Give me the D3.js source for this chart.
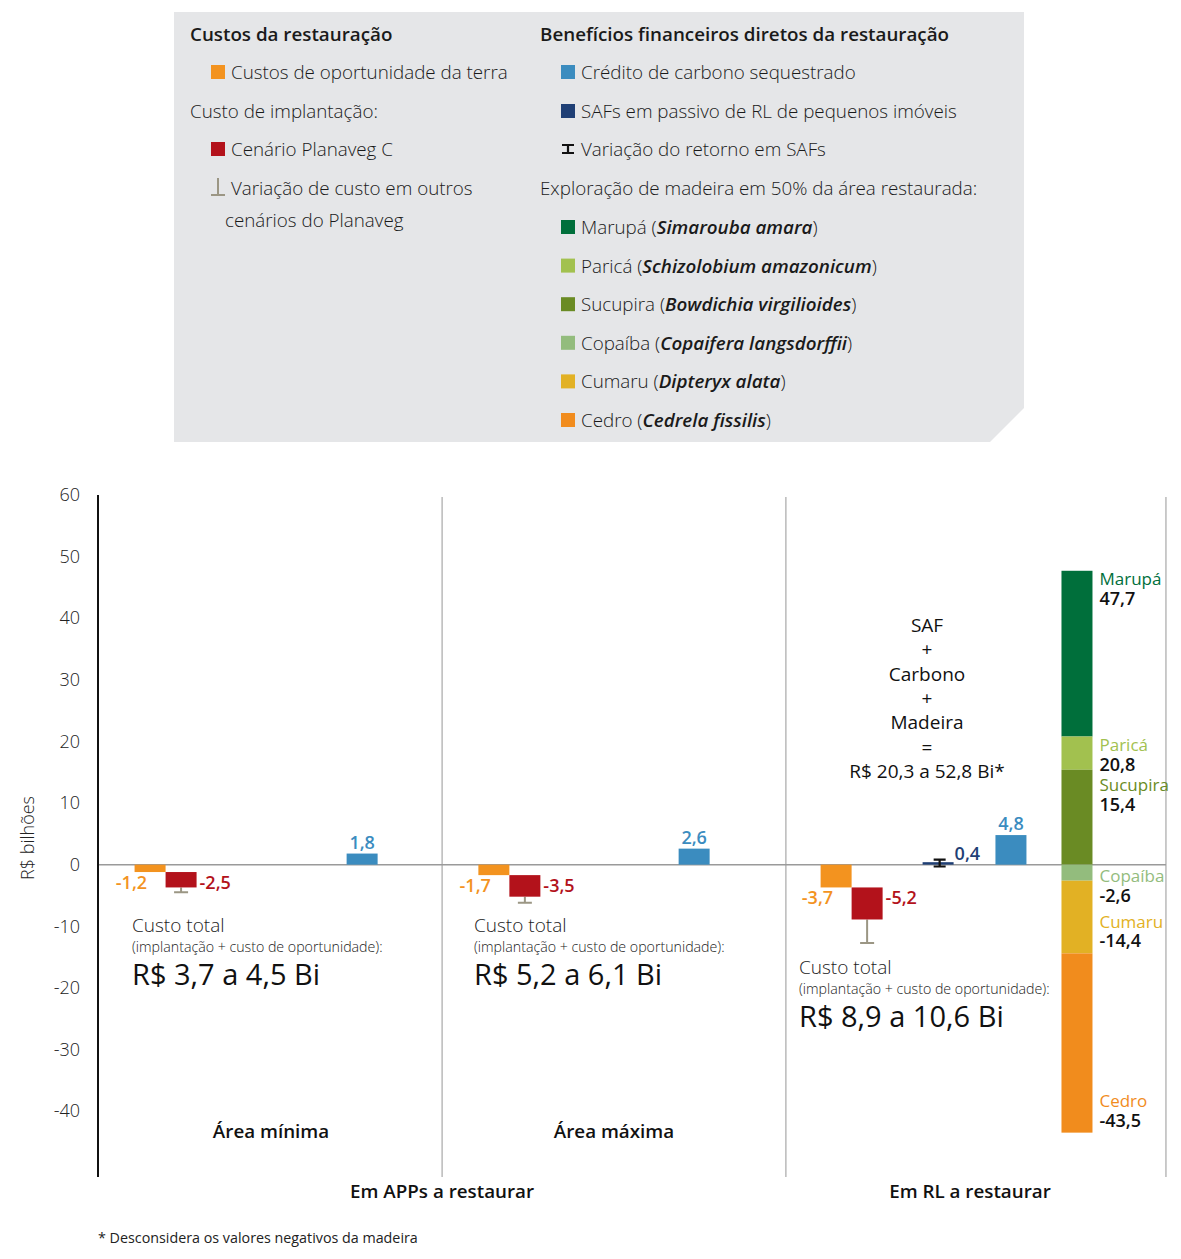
<!DOCTYPE html>
<html>
<head>
<meta charset="utf-8">
<script src="https://cdn.jsdelivr.net/npm/d3@7"></script>
<style>
  body { margin: 0; background: #fff; }
  svg { display: block; font-family: 'Open Sans', 'Noto Sans', sans-serif; }
</style>
</head>
<body>
<div id="chart"></div>
<script>
// data (R$ bilhões)
var panels = ['Área mínima', 'Área máxima', 'Em RL a restaurar'];
var oppCost = [-1.2, -1.7, -3.7];          // custos de oportunidade da terra
var implCost = [-2.5, -3.5, -5.2];         // cenário Planaveg C
var implCostLow = [-4.5, -6.2, -12.7];     // fim da variação em outros cenários
var carbon = [1.8, 2.6, 4.8];              // crédito de carbono
var safValue = 0.4;                        // SAFs em passivo de RL
var safRange = [-0.3, 0.8];
var totalCost = ['R$ 3,7 a 4,5 Bi', 'R$ 5,2 a 6,1 Bi', 'R$ 8,9 a 10,6 Bi'];

var species = ['Marupá', 'Paricá', 'Sucupira', 'Copaíba', 'Cumaru', 'Cedro'];
var speciesSci = ['Simarouba amara', 'Schizolobium amazonicum', 'Bowdichia virgilioides',
  'Copaifera langsdorffii', 'Dipteryx alata', 'Cedrela fissilis'];
var speciesValue = [47.7, 20.8, 15.4, -2.6, -14.4, -43.5];  // valores acumulados

var yTicks = [-40, -30, -20, -10, 0, 10, 20, 30, 40, 50, 60];
var sumLines = ['SAF', '+', 'Carbono', '+', 'Madeira', '=', 'R$ 20,3 a 52,8 Bi*'];

// colours
var cOpp = '#f3931f', cImpl = '#b3121b', cCarb = '#3b8cbf', cSaf = '#1f3f75';
var cWhisk = '#9b9684';
var speciesColor = ['#006f3b', '#a2c14f', '#6a8b24', '#93bc7d', '#e2b124', '#f18c1d'];

var svgWidth = 1181, svgHeight = 1259;
var svg = d3.select('#chart').append('svg')
    .attr('width', svgWidth)
    .attr('height', svgHeight);

var fmt = d3.formatLocale({ decimal: ',', thousands: '.', grouping: [3], currency: ['R$', ''], minus: '-' }).format('.1f');

// ---------- legend ----------
var lg = svg.append('g');
lg.append('path')
    .attr('d', 'M174,12 H1024 V408 L990,442 H174 Z')
    .attr('fill', '#e5e6e8');

function lgText(x, y, txt, bold) {
    return lg.append('text')
        .attr('x', x).attr('y', y)
        .attr('dominant-baseline', 'central')
        .style('font-size', '18.8px')
        .style('font-weight', bold ? 600 : 300)
        .attr('fill', '#1a1a1a')
        .text(txt);
}
function lgBox(x, y, color) {
    lg.append('rect').attr('x', x).attr('y', y - 7).attr('width', 14).attr('height', 14).attr('fill', color);
}

lgText(190, 34, 'Custos da restauração', true);
lgBox(211, 72, cOpp); lgText(231, 72, 'Custos de oportunidade da terra');
lgText(190, 111, 'Custo de implantação:');
lgBox(211, 149, cImpl); lgText(231, 149, 'Cenário Planaveg C');
lg.append('path').attr('d', 'M218,178 V195 M211,195 H225')
    .attr('stroke', cWhisk).attr('stroke-width', 2).attr('fill', 'none');
lgText(231, 188, 'Variação de custo em outros');
lgText(225, 220, 'cenários do Planaveg');

lgText(540, 34, 'Benefícios financeiros diretos da restauração', true);
lgBox(561, 72, cCarb); lgText(581, 72, 'Crédito de carbono sequestrado');
lgBox(561, 111, cSaf); lgText(581, 111, 'SAFs em passivo de RL de pequenos imóveis');
lg.append('path').attr('d', 'M562,145 H574 M568,145 V153 M562,153 H574')
    .attr('stroke', '#111').attr('stroke-width', 2.2).attr('fill', 'none');
lgText(581, 149, 'Variação do retorno em SAFs');
lgText(540, 188, 'Exploração de madeira em 50% da área restaurada:');

species.forEach(function (s, i) {
    var yy = 227 + i * 38.6;
    lgBox(561, yy, speciesColor[i]);
    var t = lgText(581, yy, s + ' (');
    t.append('tspan').style('font-style', 'italic').style('font-weight', 600).text(speciesSci[i]);
    t.append('tspan').text(')');
});

// ---------- chart ----------
// x in "bar slots" of one bar width
var slotPx = 31;
var xscale = d3.scaleLinear().domain([0, 34.45]).range([98, 98 + 34.45 * slotPx]);
var yscale = d3.scaleLinear().domain([-50.7, 60]).range([1177, 495]);

var panelEdges = [0, 11.1, 22.19, 34.45];
var oppSlot = [1.68, 12.77, 23.81];
var carbSlot = [8.52, 19.23, 29.45];
var safSlot = 27.1, stackSlot = 31.58;
var bw = xscale(1) - xscale(0);

var chartGroup = svg.append('g');

// separators
chartGroup.selectAll('.sep')
    .data(panelEdges.slice(1))
    .enter().append('line')
    .attr('x1', d => xscale(d)).attr('x2', d => xscale(d))
    .attr('y1', yscale(60) + 2).attr('y2', yscale(-50.7))
    .attr('stroke', '#a8a8a8').attr('stroke-width', 1.2);

// zero line
chartGroup.append('line')
    .attr('x1', xscale(0)).attr('x2', xscale(34.45))
    .attr('y1', yscale(0)).attr('y2', yscale(0))
    .attr('stroke', '#9a9a9a').attr('stroke-width', 1.5);

// y axis
var leftaxis = d3.axisLeft(yscale).tickValues(yTicks).tickSize(0).tickPadding(18)
    .tickFormat(d => String(d));
var yAxisG = chartGroup.append('g')
    .attr('transform', `translate(${xscale(0)}, 0)`)
    .call(leftaxis);
yAxisG.select('.domain').remove();
yAxisG.selectAll('text')
    .style('font-family', "'Open Sans', sans-serif")
    .style('font-size', '18px')
    .style('font-weight', 300)
    .attr('fill', '#222');
chartGroup.append('line')
    .attr('x1', xscale(0)).attr('x2', xscale(0))
    .attr('y1', yscale(60)).attr('y2', yscale(-50.7))
    .attr('stroke', '#111').attr('stroke-width', 2);

chartGroup.append('text')
    .attr('transform', `translate(27, 838) rotate(-90)`)
    .attr('text-anchor', 'middle')
    .attr('dominant-baseline', 'central')
    .style('font-size', '18px').style('font-weight', 300)
    .attr('fill', '#222')
    .text('R$ bilhões');

// opportunity cost bars
chartGroup.selectAll('.opp')
    .data(oppCost)
    .enter().append('rect')
    .attr('x', (d, i) => xscale(oppSlot[i]) - bw / 2)
    .attr('y', yscale(0))
    .attr('width', bw)
    .attr('height', d => yscale(d) - yscale(0))
    .attr('fill', cOpp);

// implantation cost bars (start where the opportunity cost ends)
chartGroup.selectAll('.whisk')
    .data(implCostLow)
    .enter().append('path')
    .attr('d', function (d, i) {
        var cx = xscale(oppSlot[i] + 1);
        var y0 = yscale(oppCost[i] + implCost[i]), y1 = yscale(d);
        return `M${cx},${y0} V${y1} M${cx - 7},${y1} H${cx + 7}`;
    })
    .attr('stroke', cWhisk).attr('stroke-width', 2).attr('fill', 'none');

chartGroup.selectAll('.impl')
    .data(implCost)
    .enter().append('rect')
    .attr('x', (d, i) => xscale(oppSlot[i] + 1) - bw / 2)
    .attr('y', (d, i) => yscale(oppCost[i]))
    .attr('width', bw)
    .attr('height', (d, i) => yscale(oppCost[i] + d) - yscale(oppCost[i]))
    .attr('fill', cImpl);

// labels for costs
chartGroup.selectAll('.oppLbl')
    .data(oppCost)
    .enter().append('text')
    .attr('x', (d, i) => xscale(oppSlot[i]) - 3)
    .attr('y', d => yscale(d) + 10)
    .attr('text-anchor', 'end')
    .attr('dominant-baseline', 'central')
    .style('font-size', '18px').style('font-weight', 600)
    .attr('fill', cOpp)
    .text(d => fmt(d));

chartGroup.selectAll('.implLbl')
    .data(implCost)
    .enter().append('text')
    .attr('x', (d, i) => xscale(oppSlot[i] + 1.5) + 3)
    .attr('y', (d, i) => yscale(oppCost[i]) + 10)
    .attr('dominant-baseline', 'central')
    .style('font-size', '18px').style('font-weight', 600)
    .attr('fill', cImpl)
    .text(d => fmt(d));

// carbon bars
chartGroup.selectAll('.carb')
    .data(carbon)
    .enter().append('rect')
    .attr('x', (d, i) => xscale(carbSlot[i]) - bw / 2)
    .attr('y', d => yscale(d))
    .attr('width', bw)
    .attr('height', d => yscale(0) - yscale(d))
    .attr('fill', cCarb);

chartGroup.selectAll('.carbLbl')
    .data(carbon)
    .enter().append('text')
    .attr('x', (d, i) => xscale(carbSlot[i]))
    .attr('y', d => yscale(d) - 5)
    .attr('text-anchor', 'middle')
    .style('font-size', '18px').style('font-weight', 600)
    .attr('fill', cCarb)
    .text(d => fmt(d));

// SAF bar + range
chartGroup.append('rect')
    .attr('x', xscale(safSlot) - bw / 2)
    .attr('y', yscale(safValue))
    .attr('width', bw)
    .attr('height', yscale(0) - yscale(safValue))
    .attr('fill', cSaf);
var sx = xscale(safSlot + 0.05);
chartGroup.append('path')
    .attr('d', `M${sx - 6},${yscale(safRange[1])} H${sx + 6} M${sx},${yscale(safRange[1])} V${yscale(safRange[0])} M${sx - 6},${yscale(safRange[0])} H${sx + 6}`)
    .attr('stroke', '#111').attr('stroke-width', 2.2).attr('fill', 'none');
chartGroup.append('text')
    .attr('x', xscale(safSlot + 0.5) + 1)
    .attr('y', yscale(safValue) - 9)
    .attr('dominant-baseline', 'central')
    .style('font-size', '18px').style('font-weight', 600)
    .attr('fill', cSaf)
    .text(fmt(safValue));

// wood species stack (values are cumulative from zero):
// Sucupira and Copaíba start at zero, the others start where the previous species ends
var stackData = species.map(function (s, i) {
    var v0 = 0;
    if (speciesValue[i] > 0 && i + 1 < species.length && speciesValue[i + 1] > 0) v0 = speciesValue[i + 1];
    if (speciesValue[i] < 0 && i > 0 && speciesValue[i - 1] < 0) v0 = speciesValue[i - 1];
    return { name: s, v0: v0, v1: speciesValue[i], color: speciesColor[i] };
});

chartGroup.selectAll('.stack')
    .data(stackData)
    .enter().append('rect')
    .attr('x', xscale(stackSlot) - bw / 2)
    .attr('y', d => yscale(Math.max(d.v0, d.v1)))
    .attr('width', bw)
    .attr('height', d => Math.abs(yscale(d.v0) - yscale(d.v1)))
    .attr('fill', d => d.color);

var lblX = xscale(stackSlot + 0.5) + 7;
var lastValueY = -Infinity;
stackData.forEach(function (d) {
    var ny;
    if (d.v1 > 0) ny = Math.max(yscale(d.v1) + 8, lastValueY + 21);
    else ny = Math.max(yscale(d.v1) - 32, yscale(0) + 11, lastValueY + 21);
    chartGroup.append('text')
        .attr('x', lblX).attr('y', ny)
        .attr('dominant-baseline', 'central')
        .style('font-size', '17px').style('font-weight', 400)
        .attr('fill', d.color)
        .text(d.name);
    chartGroup.append('text')
        .attr('x', lblX).attr('y', ny + 19)
        .attr('dominant-baseline', 'central')
        .style('font-size', '18px').style('font-weight', 600)
        .attr('fill', '#111')
        .text(fmt(d.v1));
    lastValueY = ny + 19;
});

// sum annotation
chartGroup.selectAll('.sum')
    .data(sumLines)
    .enter().append('text')
    .attr('x', 927)
    .attr('y', (d, i) => 625 + i * 24.3)
    .attr('text-anchor', 'middle')
    .attr('dominant-baseline', 'central')
    .style('font-size', '19px').style('font-weight', 400)
    .attr('fill', '#111')
    .text(d => d);

// total cost blocks
var costPos = [[132, 925], [474, 925], [799, 967]];
totalCost.forEach(function (t, i) {
    var g = chartGroup.append('g').attr('transform', `translate(${costPos[i][0]}, ${costPos[i][1]})`);
    g.append('text').attr('y', 0).attr('dominant-baseline', 'central')
        .style('font-size', '19px').style('font-weight', 300).attr('fill', '#222')
        .text('Custo total');
    g.append('text').attr('y', 21).attr('dominant-baseline', 'central')
        .style('font-size', '14.2px').style('font-weight', 300).attr('fill', '#222')
        .text('(implantação + custo de oportunidade):');
    g.append('text').attr('y', 48).attr('dominant-baseline', 'central')
        .style('font-size', '29px').style('font-weight', 400).attr('fill', '#111')
        .text(t);
});

// panel labels
function boldLabel(x, y, txt) {
    chartGroup.append('text').attr('x', x).attr('y', y)
        .attr('text-anchor', 'middle').attr('dominant-baseline', 'central')
        .style('font-size', '18.8px').style('font-weight', 600).attr('fill', '#111')
        .text(txt);
}
boldLabel(271, 1131, panels[0]);
boldLabel(614, 1131, panels[1]);
boldLabel(xscale(panelEdges[1]), 1191, 'Em APPs a restaurar');
boldLabel(970, 1191, panels[2]);

chartGroup.append('text').attr('x', 98).attr('y', 1237)
    .attr('dominant-baseline', 'central')
    .style('font-size', '14.3px').style('font-weight', 400).attr('fill', '#222')
    .text('* Desconsidera os valores negativos da madeira');
</script>
</body>
</html>
